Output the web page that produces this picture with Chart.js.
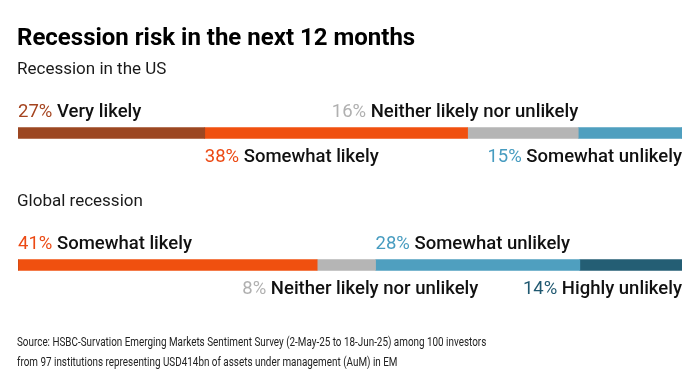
<!DOCTYPE html>
<html>
<head>
<meta charset="utf-8">
<script src="https://cdn.jsdelivr.net/npm/chart.js@4.4.1/dist/chart.umd.min.js"></script>
<style>
  html, body { margin: 0; padding: 0; background: #fff; }
  #wrap { position: relative; width: 696px; height: 390px; }
</style>
</head>
<body>
<div id="wrap"><canvas id="riskChart" width="696" height="390"></canvas></div>
<script>
const bars = ['Recession in the US', 'Global recession'];
const categories = ['Very likely', 'Somewhat likely', 'Neither likely nor unlikely', 'Somewhat unlikely', 'Highly unlikely'];
const usValues = [27, 38, 16, 15, 0];
const globalValues = [0, 41, 8, 28, 14];
const colors = ['#9c4722', '#f0500f', '#b5b5b5', '#4f9fbf', '#245e74'];
const pctColors = ['#a5441f', '#ec4a14', '#b0b0b0', '#479cc0', '#1f5870'];

// where each label sits: side of the bar, and anchor on the segment
const labelSide = [
  ['above', 'below', 'above', 'below', null],
  [null, 'above', 'below', 'above', 'below']
];
const labelAlign = [
  ['start', 'start', 'end', 'end', null],
  [null, 'start', 'center', 'start', 'end']
];
const labelNudge = [[0, 0, 0, 0, 0], [0, 0, 14, 0, 0]];

const rows = [usValues, globalValues];
const totals = rows.map(r => r.reduce((a, b) => a + b, 0));
const share = (r, i) => rows[r][i] / totals[r] * 100;

const LABEL = '500 18.5px Roboto, "Liberation Sans", sans-serif';
const PCT = '400 18.5px Roboto, "Liberation Sans", sans-serif';

const textPlugin = {
  id: 'texts',
  afterDatasetsDraw(chart) {
    const c = chart.ctx;
    const x = chart.scales.x, y = chart.scales.y;
    c.save();
    c.textBaseline = 'alphabetic';
    c.fillStyle = '#000';
    c.font = 'bold 24px Roboto, "Liberation Sans", sans-serif';
    c.fillText('Recession risk in the next 12 months', 17, 45);

    bars.forEach((name, r) => {
      const cy = y.getPixelForValue(r);
      c.font = '400 17px Roboto, "Liberation Sans", sans-serif';
      c.fillStyle = '#1a1a1a';
      c.fillText(name, 17, cy - 59);

      let cum = 0;
      categories.forEach((cat, i) => {
        const v = rows[r][i];
        const x0 = x.getPixelForValue(cum);
        cum += share(r, i);
        const x1 = x.getPixelForValue(cum);
        if (!v || !labelSide[r][i]) return;
        const pct = v + '% ';
        c.font = PCT;
        const wp = c.measureText(pct).width;
        c.font = LABEL;
        const wl = c.measureText(cat).width;
        const w = wp + wl;
        let tx;
        if (labelAlign[r][i] === 'start') tx = x0;
        else if (labelAlign[r][i] === 'end') tx = x1 - w;
        else tx = (x0 + x1) / 2 - w / 2;
        tx += labelNudge[r][i];
        const ty = labelSide[r][i] === 'above' ? cy - 16 : cy + 29;
        c.font = PCT;
        c.fillStyle = pctColors[i];
        c.fillText(pct, tx, ty);
        c.font = LABEL;
        c.fillStyle = '#111';
        c.fillText(cat, tx + wp, ty);
      });
    });

    // source note is set in a condensed face in the original
    c.font = '400 13px Roboto, "Liberation Sans", sans-serif';
    c.fillStyle = '#222';
    c.translate(17, 0);
    c.scale(0.76, 1);
    c.fillText('Source: HSBC-Survation Emerging Markets Sentiment Survey (2-May-25 to 18-Jun-25) among 100 investors', 0, 346);
    c.fillText('from 97 institutions representing USD414bn of assets under management (AuM) in EM', 0, 366);
    c.restore();
  }
};

new Chart(document.getElementById('riskChart').getContext('2d'), {
  type: 'bar',
  data: {
    labels: bars,
    datasets: categories.map((cat, i) => ({
      label: cat,
      data: rows.map((r, ri) => share(ri, i)),
      backgroundColor: colors[i],
      borderWidth: 0,
      barThickness: 11
    }))
  },
  options: {
    indexAxis: 'y',
    responsive: false,
    animation: false,
    layout: { padding: { left: 18, right: 14, top: 67, bottom: 59 } },
    scales: {
      x: { stacked: true, min: 0, max: 100, display: false },
      y: { stacked: true, display: false, offset: true }
    },
    plugins: {
      legend: { display: false },
      tooltip: { enabled: false }
    }
  },
  plugins: [textPlugin]
});
</script>
</body>
</html>
